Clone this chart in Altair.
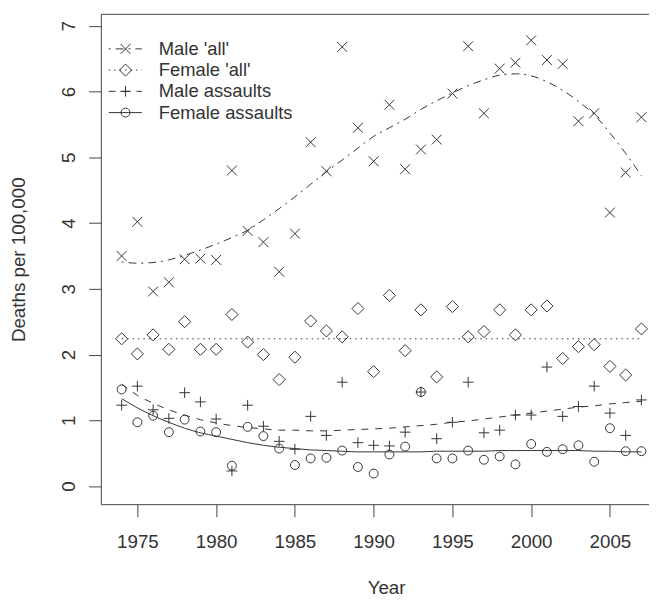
import altair as alt
import pandas as pd

# ---------------- data ----------------
years = list(range(1974, 2008))

male_all = [3.50, 4.02, 2.96, 3.10, 3.45, 3.46, 3.44, 4.80, 3.88, 3.71, 3.26, 3.84,
            5.23, 4.79, 6.68, 5.45, 4.94, 5.80, 4.82, 5.12, 5.27, 5.97, 6.69, 5.67,
            6.35, 6.44, 6.78, 6.48, 6.42, 5.55, 5.67, 4.16, 4.77, 5.61]
female_all = [2.24, 2.01, 2.30, 2.08, 2.50, 2.08, 2.08, 2.61, 2.19, 2.00, 1.62, 1.96,
              2.51, 2.36, 2.27, 2.70, 1.74, 2.90, 2.06, 2.68, 1.66, 2.73, 2.27, 2.35,
              2.68, 2.30, 2.68, 2.74, 1.94, 2.12, 2.15, 1.82, 1.69, 2.39]
male_assault = [1.23, 1.52, 1.16, 1.03, 1.42, 1.28, 1.02, 0.23, 1.23, 0.91, 0.68, 0.56,
                1.06, 0.77, 1.58, 0.66, 0.62, 0.61, 0.82, 1.43, 0.72, 0.97, 1.58, 0.81,
                0.85, 1.08, 1.08, 1.81, 1.06, 1.21, 1.52, 1.11, 0.77, 1.31]
female_assault = [1.47, 0.97, 1.07, 0.82, 1.01, 0.83, 0.82, 0.31, 0.90, 0.76, 0.57, 0.32,
                  0.42, 0.43, 0.54, 0.29, 0.19, 0.48, 0.60, 1.43, 0.42, 0.42, 0.54, 0.40,
                  0.45, 0.33, 0.64, 0.52, 0.56, 0.62, 0.37, 0.88, 0.53, 0.53]

# fitted curves (at each year)
fit_male_all = [3.41, 3.39, 3.40, 3.44, 3.51, 3.59, 3.68, 3.78, 3.89, 4.05, 4.22, 4.40,
                4.59, 4.78, 4.96, 5.14, 5.32, 5.45, 5.58, 5.73, 5.86, 5.98, 6.09, 6.18,
                6.25, 6.27, 6.24, 6.15, 6.02, 5.85, 5.65, 5.37, 5.06, 4.72]
fit_female_all_years = [1974, 2007]
fit_female_all = [2.24, 2.24]
fit_male_assault = [1.55, 1.38, 1.26, 1.16, 1.08, 1.01, 0.96, 0.92, 0.89, 0.87, 0.85, 0.85,
                    0.84, 0.84, 0.85, 0.86, 0.87, 0.88, 0.90, 0.92, 0.94, 0.97, 0.99, 1.02,
                    1.05, 1.08, 1.11, 1.14, 1.17, 1.20, 1.22, 1.25, 1.27, 1.29]
fit_female_assault = [1.33, 1.19, 1.07, 0.97, 0.88, 0.81, 0.76, 0.71, 0.66, 0.62, 0.59, 0.57,
                      0.55, 0.54, 0.53, 0.52, 0.52, 0.52, 0.52, 0.52, 0.53, 0.53, 0.53, 0.53,
                      0.54, 0.54, 0.54, 0.54, 0.54, 0.54, 0.53, 0.53, 0.52, 0.52]

series_names = ["Male 'all'", "Female 'all'", "Male assaults", "Female assaults"]
x_ticks = [1975, 1980, 1985, 1990, 1995, 2000, 2005]
y_ticks = [0, 1, 2, 3, 4, 5, 6, 7]

# ---------------- styling ----------------
FONT = "Liberation Sans"
INK = "#333333"
AXIS_C = "#444444"
W, H = 555, 496
XDOM = [1972.68, 2007.48]
YDOM = [-0.276, 7.176]

shapes = ["M-1,-1L1,1M-1,1L1,-1", "diamond", "M-1,0L1,0M0,-1L0,1", "circle"]
sizes = [100, 150, 115, 81]
dashes = [[2, 5, 8, 5], [1.5, 4], [7, 7], None]

x_enc = alt.X("year:Q",
              scale=alt.Scale(domain=XDOM, nice=False, zero=False),
              axis=alt.Axis(values=x_ticks, format="d", tickSize=12.7, labelPadding=16.3,
                            labelFlush=False, labelOverlap=False,
                            titleX=288.8, titleY=90, titleBaseline="alphabetic",
                            titleAlign="center"),
              title="Year")
y_enc = alt.Y("value:Q",
              scale=alt.Scale(domain=YDOM, nice=False, zero=False),
              axis=alt.Axis(values=y_ticks, format="d", tickSize=12.3, labelAngle=270,
                            labelAlign="center", labelBaseline="bottom", labelPadding=10.4,
                            labelOverlap=False, labelFlush=False,
                            titleAngle=270, titleX=-83, titleY=248,
                            titleAlign="center", titleBaseline="middle"),
              title="Deaths per 100,000")

layers = []

# fitted lines
fits = [
    (years, fit_male_all),
    (fit_female_all_years, fit_female_all),
    (years, fit_male_assault),
    (years, fit_female_assault),
]
for (yrs, vals), dash in zip(fits, dashes):
    df = pd.DataFrame({"year": yrs, "value": vals})
    kw = dict(color=INK, strokeWidth=1, interpolate="monotone", clip=True)
    if dash is not None:
        kw["strokeDash"] = dash
    layers.append(alt.Chart(df).mark_line(**kw).encode(x=x_enc, y=y_enc))

# points
for vals, shp, sz in zip([male_all, female_all, male_assault, female_assault], shapes, sizes):
    df = pd.DataFrame({"year": years, "value": vals})
    layers.append(
        alt.Chart(df).mark_point(shape=shp, size=sz, filled=False, color=INK,
                                 strokeWidth=1, opacity=1).encode(x=x_enc, y=y_enc)
    )

# top border of the box
layers.append(
    alt.Chart(pd.DataFrame({"k": [0]})).mark_rule(color=AXIS_C, strokeWidth=1).encode(
        x=alt.value(0), x2=alt.value(W), y=alt.value(0))
)

# legend (top-left, inside the box)
row_y = [35, 56.5, 78, 99.5]
for name, shp, sz, dash, ry in zip(series_names, shapes, sizes, dashes, row_y):
    ldf = pd.DataFrame({"label": [name]})
    rkw = dict(color=INK, strokeWidth=1)
    if dash is not None:
        rkw["strokeDash"] = dash
    layers.append(alt.Chart(ldf).mark_rule(**rkw).encode(
        x=alt.value(8), x2=alt.value(41.5), y=alt.value(ry)))
    layers.append(alt.Chart(ldf).mark_point(shape=shp, size=sz, filled=False, color=INK,
                                            strokeWidth=1, opacity=1).encode(
        x=alt.value(25), y=alt.value(ry)))
    layers.append(alt.Chart(ldf).mark_text(align="left", baseline="middle", font=FONT,
                                           fontSize=18.6, color=INK).encode(
        x=alt.value(58.7), y=alt.value(ry), text="label:N"))

chart = alt.layer(*layers).properties(
    width=W, height=H,
    autosize=alt.AutoSizeParams(type="none"),
    padding={"left": 94, "top": 2.7, "right": 0, "bottom": 93},
    background="white",
).configure_view(strokeOpacity=0).configure_axis(
    grid=False, domainColor=AXIS_C, tickColor=AXIS_C, domainWidth=1, tickWidth=1,
    labelColor=INK, titleColor=INK, labelFont=FONT, titleFont=FONT,
    labelFontSize=19, titleFontSize=19, titleFontWeight="normal",
)

chart.save("out.html", embed_options={"renderer": "svg", "actions": False})
